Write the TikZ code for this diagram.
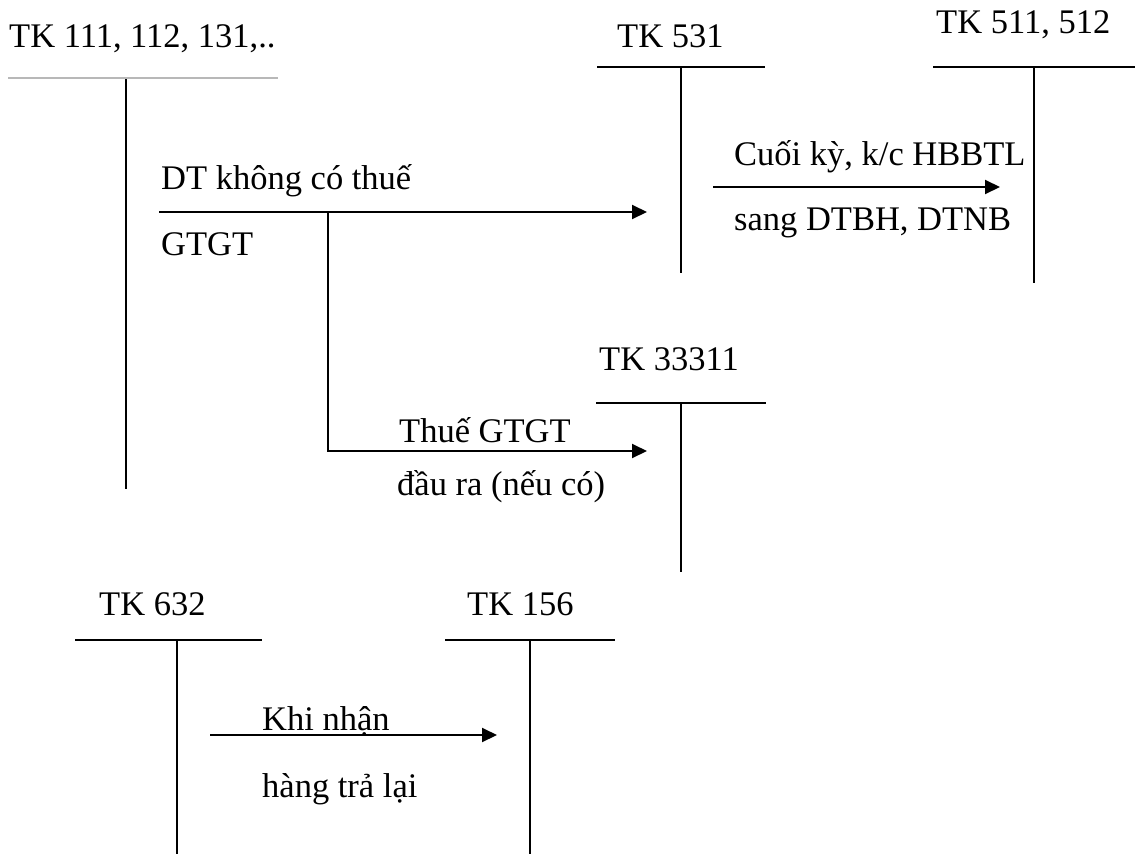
\documentclass[tikz,border=0pt]{standalone}
\usepackage{fontspec}
\setmainfont{Liberation Serif}
\usetikzlibrary{arrows.meta}
\begin{document}
\begin{tikzpicture}[x=1pt,y=-1pt,
  lbl/.style={anchor=base west, inner sep=0pt, font=\fontsize{34.5}{41}\selectfont},
  tline/.style={line width=2pt},
  grayline/.style={line width=1.2pt, draw=black!28},
  flow/.style={line width=2pt, -{Triangle[length=15pt,width=14pt]}}]
\useasboundingbox (0,0) rectangle (1138,854);

% T-account TK 111
\node[lbl] (t111) at (9,47) {TK 111, 112, 131,..};
\coordinate (a111l) at (8,78);
\coordinate (a111r) at (278,78);
\coordinate (a111t) at (126,79);
\coordinate (a111b) at (126,489);
\draw[grayline] (a111l) -- (a111r);
\draw[tline] (a111t) -- (a111b);

% T-account TK 531
\node[lbl] (t531) at (617,47) {TK 531};
\coordinate (a531l) at (597,67);
\coordinate (a531r) at (765,67);
\coordinate (a531t) at (681,67);
\coordinate (a531b) at (681,273);
\draw[tline] (a531l) -- (a531r);
\draw[tline] (a531t) -- (a531b);

% T-account TK 511, 512
\node[lbl] (t511) at (936,33) {TK 511, 512};
\coordinate (a511l) at (933,67);
\coordinate (a511r) at (1135,67);
\coordinate (a511t) at (1034,67);
\coordinate (a511b) at (1034,283);
\draw[tline] (a511l) -- (a511r);
\draw[tline] (a511t) -- (a511b);

% T-account TK 33311
\node[lbl] (t33311) at (599,370) {TK 33311};
\coordinate (a333l) at (596,403);
\coordinate (a333r) at (766,403);
\coordinate (a333t) at (681,403);
\coordinate (a333b) at (681,572);
\draw[tline] (a333l) -- (a333r);
\draw[tline] (a333t) -- (a333b);

% T-account TK 632
\node[lbl] (t632) at (99,615) {TK 632};
\coordinate (a632l) at (75,640);
\coordinate (a632r) at (262,640);
\coordinate (a632t) at (177,640);
\coordinate (a632b) at (177,854);
\draw[tline] (a632l) -- (a632r);
\draw[tline] (a632t) -- (a632b);

% T-account TK 156
\node[lbl] (t156) at (467,615) {TK 156};
\coordinate (a156l) at (445,640);
\coordinate (a156r) at (615,640);
\coordinate (a156t) at (530,640);
\coordinate (a156b) at (530,854);
\draw[tline] (a156l) -- (a156r);
\draw[tline] (a156t) -- (a156b);

% Flow: DT khong co thue GTGT -> TK 531
\coordinate (dtS) at (159,212);
\coordinate (dtE) at (647,212);
\draw[flow] (dtS) -- (dtE);
\node[lbl] (dt1) at (161,189) {DT không có thuế};
\node[lbl] (dt2) at (161,255) {GTGT};

% Flow: branch -> TK 33311
\coordinate (brS) at (328,212);
\coordinate (brC) at (328,451);
\coordinate (brE) at (647,451);
\draw[flow] (brS) -- (brC) -- (brE);
\node[lbl] (vat1) at (399,442) {Thuế GTGT};
\node[lbl] (vat2) at (397,495) {đầu ra (nếu có)};

% Flow: TK 531 -> TK 511, 512
\coordinate (kcS) at (713,187);
\coordinate (kcE) at (1000,187);
\draw[flow] (kcS) -- (kcE);
\node[lbl] (kc1) at (734,165) {Cuối kỳ, k/c HBBTL};
\node[lbl] (kc2) at (734,230) {sang DTBH, DTNB};

% Flow: TK 632 -> TK 156
\coordinate (rtS) at (210,735);
\coordinate (rtE) at (497,735);
\draw[flow] (rtS) -- (rtE);
\node[lbl] (rt1) at (262,730) {Khi nhận};
\node[lbl] (rt2) at (262,797) {hàng trả lại};
\end{tikzpicture}
\end{document}
